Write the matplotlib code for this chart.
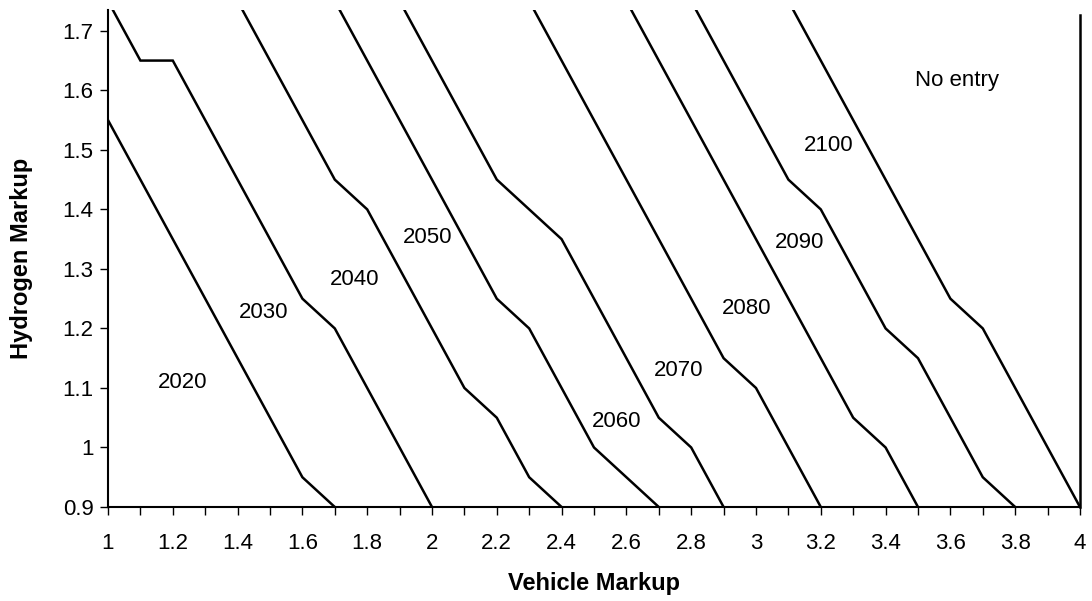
import matplotlib
matplotlib.use("Agg")
import matplotlib.pyplot as plt

plt.rcParams['font.family'] = ['Liberation Sans', 'DejaVu Sans']

# boundary lines between entry years (vehicle markup, hydrogen markup)
x2020 = [1.0, 1.6, 1.7]
y2020 = [1.55, 0.95, 0.9]
x2030 = [1.0, 1.1, 1.2, 1.6, 1.7, 2.0]
y2030 = [1.75, 1.65, 1.65, 1.25, 1.2, 0.9]
x2040 = [1.4, 1.7, 1.8, 2.1, 2.2, 2.3, 2.4]
y2040 = [1.75, 1.45, 1.4, 1.1, 1.05, 0.95, 0.9]
x2050 = [1.7, 2.2, 2.3, 2.5, 2.7]
y2050 = [1.75, 1.25, 1.2, 1.0, 0.9]
x2060 = [1.9, 2.2, 2.4, 2.7, 2.8, 2.9]
y2060 = [1.75, 1.45, 1.35, 1.05, 1.0, 0.9]
x2070 = [2.3, 2.9, 3.0, 3.2]
y2070 = [1.75, 1.15, 1.1, 0.9]
x2080 = [2.6, 3.3, 3.4, 3.5]
y2080 = [1.75, 1.05, 1.0, 0.9]
x2090 = [2.8, 3.1, 3.2, 3.4, 3.5, 3.7, 3.8]
y2090 = [1.75, 1.45, 1.4, 1.2, 1.15, 0.95, 0.9]
x2100 = [3.1, 3.6, 3.7, 4.0]
y2100 = [1.75, 1.25, 1.2, 0.9]
# "no entry" edge at the right
x_edge = [4.0, 4.0]
y_edge = [0.9, 1.727]

lines = [(x2020, y2020), (x2030, y2030), (x2040, y2040), (x2050, y2050),
         (x2060, y2060), (x2070, y2070), (x2080, y2080), (x2090, y2090),
         (x2100, y2100)]

# region labels
region_names = ['2020', '2030', '2040', '2050', '2060', '2070', '2080', '2090', '2100', 'No entry']
region_x = [1.23, 1.48, 1.76, 1.985, 2.57, 2.76, 2.97, 3.135, 3.225, 3.62]
region_y = [1.11, 1.226, 1.283, 1.352, 1.043, 1.13, 1.233, 1.345, 1.508, 1.616]

x_ticks = [1, 1.2, 1.4, 1.6, 1.8, 2, 2.2, 2.4, 2.6, 2.8, 3, 3.2, 3.4, 3.6, 3.8, 4]
x_tick_labels = ['1', '1.2', '1.4', '1.6', '1.8', '2', '2.2', '2.4', '2.6', '2.8',
                 '3', '3.2', '3.4', '3.6', '3.8', '4']
x_minor = [1.1, 1.3, 1.5, 1.7, 1.9, 2.1, 2.3, 2.5, 2.7, 2.9, 3.1, 3.3, 3.5, 3.7, 3.9]
y_ticks = [0.9, 1.0, 1.1, 1.2, 1.3, 1.4, 1.5, 1.6, 1.7]
y_tick_labels = ['0.9', '1', '1.1', '1.2', '1.3', '1.4', '1.5', '1.6', '1.7']

fig = plt.figure(figsize=(10.92, 6.01), dpi=100)
ax = fig.add_axes([0.0989, 0.1564, 0.8901, 0.827])

for xs, ys in lines:
    ax.plot(xs, ys, color='black', lw=1.8, solid_joinstyle='miter')
ax.plot(x_edge, y_edge, color='black', lw=1.8, clip_on=False)

for name, tx, ty in zip(region_names, region_x, region_y):
    ax.text(tx, ty, name, fontsize=16, ha='center', va='center')

ax.set_xlim(1, 4)
ax.set_ylim(0.9, 1.735)

ax.set_xticks(x_ticks)
ax.set_xticklabels(x_tick_labels)
ax.set_xticks(x_minor, minor=True)
ax.set_yticks(y_ticks)
ax.set_yticklabels(y_tick_labels)

ax.tick_params(axis='x', which='both', direction='out', length=5.5, width=1.0,
               labelsize=16, pad=13)
ax.tick_params(axis='y', which='both', direction='out', length=5.5, width=1.0,
               labelsize=16, pad=5)

ax.spines['top'].set_visible(False)
ax.spines['right'].set_visible(False)
ax.spines['left'].set_linewidth(1.5)
ax.spines['bottom'].set_linewidth(1.5)

ax.set_xlabel('Vehicle Markup', fontsize=17, fontweight='bold', va='center')
ax.xaxis.set_label_coords(0.5, -0.153)
ax.set_ylabel('Hydrogen Markup', fontsize=17, fontweight='bold', va='center')
ax.yaxis.set_label_coords(-0.0885, 0.5)

fig.savefig('out.png', dpi=100)
